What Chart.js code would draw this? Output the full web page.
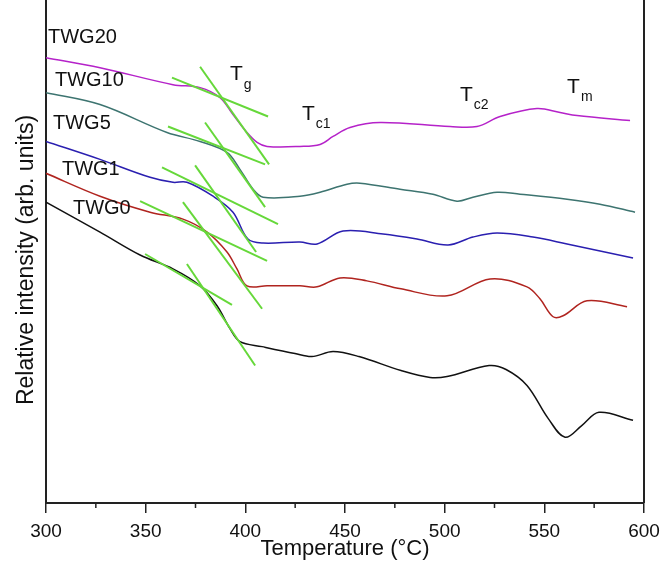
<!DOCTYPE html>
<html>
<head>
<meta charset="utf-8">
<script src="https://cdn.jsdelivr.net/npm/chart.js@4"></script>
<style>
  html, body { margin: 0; padding: 0; background: #fff; }
  #wrap { width: 662px; height: 568px; }
</style>
</head>
<body>
<div id="wrap"><canvas id="chart" width="662" height="568"></canvas></div>
<script>
// DSC traces, temperature (°C) vs relative intensity (arb. units)
const tempTWG20 = [300, 327.1, 363.7, 377.3, 387.3, 393.8, 400.8, 405.9, 410.9, 427.4, 437.5, 444.0, 452.5, 467.6, 502.7, 516.2, 527.8, 546.3, 557.9, 566.4, 593.0];
const valTWG20  = [44.7, 43.7, 42.0, 41.7, 40.7, 39.0, 37.2, 36.2, 35.8, 35.8, 36.0, 36.8, 37.7, 38.2, 37.8, 37.8, 38.8, 39.6, 39.2, 38.9, 38.4];

const tempTWG10 = [300, 327.1, 360.7, 377.3, 390.8, 397.3, 403.9, 408.9, 427.4, 437.5, 451.0, 457.5, 477.6, 494.1, 506.2, 514.2, 526.3, 537.8, 561.4, 577.9, 595.5];
const valTWG10  = [41.2, 40.0, 37.2, 36.3, 35.2, 33.5, 31.5, 30.7, 30.8, 31.2, 32.0, 32.1, 31.5, 31.0, 30.3, 30.7, 31.2, 31.0, 30.5, 30.0, 29.2];

const tempTWG5 = [300, 327.1, 352.2, 363.7, 370.7, 383.8, 393.8, 401.3, 408.9, 427.4, 436.0, 449.0, 469.1, 486.1, 501.7, 514.2, 526.3, 544.3, 561.4, 594.5];
const valTWG5  = [36.3, 34.5, 32.7, 32.2, 32.2, 30.8, 29.2, 26.5, 26.1, 26.2, 26.0, 27.3, 27.0, 26.5, 25.9, 26.7, 27.1, 26.7, 26.0, 24.6];

const tempTWG1 = [300, 327.1, 352.2, 368.7, 380.8, 390.8, 395.8, 400.8, 410.9, 427.4, 436.0, 447.5, 461.0, 478.1, 501.2, 522.8, 541.3, 547.8, 554.4, 559.4, 571.4, 591.5];
const valTWG1  = [33.1, 30.8, 29.2, 28.5, 27.2, 25.2, 23.5, 21.8, 21.8, 21.8, 21.7, 22.6, 22.3, 21.5, 20.8, 22.5, 21.7, 20.5, 18.7, 18.8, 20.3, 19.7];

const tempTWG0 = [300, 327.1, 347.2, 363.7, 377.3, 385.8, 392.3, 397.3, 408.4, 424.9, 433.4, 444.0, 457.0, 478.1, 492.7, 501.2, 522.3, 530.8, 541.3, 551.9, 560.4, 568.9, 577.4, 594.5];
const valTWG0  = [30.2, 27.2, 24.9, 23.5, 21.8, 19.8, 17.5, 16.2, 15.7, 15.0, 14.7, 15.2, 14.7, 13.3, 12.6, 12.7, 13.8, 13.4, 11.8, 8.5, 6.6, 7.8, 9.1, 8.3];

// tangent construction around Tg: [x1, y1, x2, y2] per line
const tangents = [
  [363.2, 42.7, 411.4, 38.8], [377.3, 43.8, 411.9, 34.0],
  [361.2, 37.8, 409.9, 34.0], [379.8, 38.2, 409.9, 29.7],
  [358.2, 33.7, 416.4, 28.0], [374.8, 33.9, 405.4, 25.2],
  [347.2, 30.3, 410.9, 24.3], [368.7, 30.2, 408.4, 19.5],
  [349.7, 25.0, 393.3, 19.9], [370.7, 24.0, 404.9, 13.8]
];

const sampleNames = ['TWG20', 'TWG10', 'TWG5', 'TWG1', 'TWG0'];
const sampleLabelX = [301.0, 304.5, 303.5, 308.0, 313.5];
const sampleLabelY = [46.7, 42.4, 38.1, 33.5, 29.6];

// transition markers: main letter + subscript
const markMain = ['T', 'T', 'T', 'T'];
const markSub = ['g', 'c1', 'c2', 'm'];
const markX = [392.3, 428.4, 507.7, 561.4];
const markY = [43.0, 39.0, 40.95, 41.75];

const xTicks = [300, 350, 400, 450, 500, 550, 600];
const xMinorTicks = [325, 375, 425, 475, 525, 575];

const FONT = '"Liberation Sans", Arial, sans-serif';

function toPoints(xs, ys) {
  return xs.map((x, i) => ({ x: x, y: ys[i] }));
}

const curves = [
  { label: 'TWG20', data: toPoints(tempTWG20, valTWG20), color: '#b522c9' },
  { label: 'TWG10', data: toPoints(tempTWG10, valTWG10), color: '#3d7470' },
  { label: 'TWG5',  data: toPoints(tempTWG5, valTWG5),   color: '#2a1fb0' },
  { label: 'TWG1',  data: toPoints(tempTWG1, valTWG1),   color: '#b0241f' },
  { label: 'TWG0',  data: toPoints(tempTWG0, valTWG0),   color: '#111111' }
];

let datasets = curves.map(c => ({
  label: c.label,
  data: c.data,
  borderColor: c.color,
  borderWidth: 1.5,
  pointRadius: 0,
  tension: 0.35,
  order: 2
}));

tangents.forEach((t, i) => {
  datasets.push({
    label: 'tangent' + i,
    data: [{ x: t[0], y: t[1] }, { x: t[2], y: t[3] }],
    borderColor: '#66d83a',
    borderWidth: 2,
    pointRadius: 0,
    order: 1
  });
});

// minor ticks, right spine, y title and text labels
const extras = {
  id: 'extras',
  afterDraw(chart) {
    const ctx = chart.ctx;
    const xs = chart.scales.x;
    const ys = chart.scales.y;
    const area = chart.chartArea;
    ctx.save();
    ctx.strokeStyle = '#222';
    ctx.lineWidth = 1.5;
    xMinorTicks.forEach(v => {
      const px = xs.getPixelForValue(v);
      ctx.beginPath();
      ctx.moveTo(px, area.bottom);
      ctx.lineTo(px, area.bottom + 5);
      ctx.stroke();
    });
    ctx.lineWidth = 2;
    ctx.beginPath();
    ctx.moveTo(area.right, area.top);
    ctx.lineTo(area.right, area.bottom);
    ctx.stroke();

    ctx.fillStyle = '#111';
    ctx.textBaseline = 'middle';

    ctx.save();
    ctx.translate(27, 260);
    ctx.rotate(-Math.PI / 2);
    ctx.textAlign = 'center';
    ctx.font = '23px ' + FONT;
    ctx.fillText('Relative intensity (arb. units)', 0, 0);
    ctx.restore();

    ctx.textAlign = 'left';
    ctx.font = '20px ' + FONT;
    sampleNames.forEach((n, i) => {
      ctx.fillText(n, xs.getPixelForValue(sampleLabelX[i]), ys.getPixelForValue(sampleLabelY[i]));
    });
    markMain.forEach((m, i) => {
      const px = xs.getPixelForValue(markX[i]);
      const py = ys.getPixelForValue(markY[i]);
      ctx.font = '21px ' + FONT;
      ctx.fillText(m, px, py);
      const w = ctx.measureText(m).width;
      ctx.font = '14px ' + FONT;
      ctx.fillText(markSub[i], px + w + 1, py + 10);
    });
    ctx.restore();
  }
};

new Chart(document.getElementById('chart'), {
  type: 'line',
  data: { datasets: datasets },
  options: {
    responsive: false,
    animation: false,
    layout: { padding: { top: 0, right: 18, bottom: 0, left: 0 } },
    plugins: {
      legend: { display: false },
      tooltip: { enabled: false }
    },
    scales: {
      x: {
        type: 'linear',
        min: 300,
        max: 600,
        afterBuildTicks: s => { s.ticks = xTicks.map(v => ({ value: v })); },
        afterFit: s => { s.height = 65; s.paddingLeft = 0; s.paddingRight = 0; },
        ticks: { color: '#111', font: { size: 19, family: FONT }, padding: 7, maxRotation: 0 },
        grid: { display: true, drawOnChartArea: false, tickLength: 10, color: '#222', lineWidth: 1.5 },
        border: { display: true, color: '#222', width: 2 },
        title: { display: true, text: 'Temperature (°C)', color: '#111', font: { size: 22, family: FONT }, padding: { top: 0, bottom: 6 } }
      },
      y: {
        min: 0,
        max: 50.5,
        afterFit: s => { s.width = 46; s.paddingTop = 0; s.paddingBottom = 0; },
        ticks: { display: false },
        grid: { display: false },
        border: { display: true, color: '#222', width: 2 }
      }
    }
  },
  plugins: [extras]
});
</script>
</body>
</html>
